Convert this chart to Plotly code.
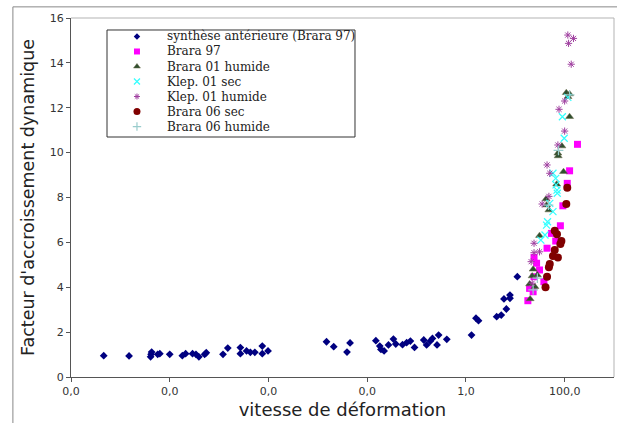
import plotly.graph_objects as go

# strain rate (1/s) and dynamic increase factor
synth_x = [4.6e-8, 1.5e-7, 4.1e-7, 4.2e-7, 4.3e-7, 5.7e-7, 6.3e-7, 1.0e-6, 1.8e-6, 2.1e-6,
           2.9e-6, 3.4e-6, 3.9e-6, 5.1e-6, 5.5e-6, 1.2e-5, 1.5e-5, 2.7e-5, 2.7e-5, 3.6e-5,
           4.3e-5, 5.3e-5, 7.5e-5, 7.5e-5, 9.8e-5, 1.5e-3, 2.1e-3, 3.9e-3, 4.5e-3, 0.015,
           0.018, 0.019, 0.022, 0.027, 0.034, 0.038, 0.052, 0.063, 0.075, 0.091,
           0.14, 0.16, 0.19, 0.21, 0.26, 0.28, 0.41, 1.3, 1.8, 1.6,
           4.2, 5.2, 6.6, 5.9, 7.8, 7.8, 11.0]
synth_y = [0.95, 0.94, 0.90, 1.01, 1.11, 1.01, 1.04, 1.01, 0.95, 1.04,
           1.04, 1.01, 0.90, 1.01, 1.08, 1.01, 1.29, 1.31, 1.04, 1.16,
           1.10, 1.10, 1.38, 1.04, 1.16, 1.57, 1.35, 1.11, 1.52, 1.62,
           1.38, 1.23, 1.16, 1.43, 1.69, 1.47, 1.44, 1.53, 1.60, 1.32,
           1.65, 1.43, 1.60, 1.72, 1.43, 1.87, 1.68, 1.87, 2.51, 2.62,
           2.69, 2.76, 3.03, 3.48, 3.65, 3.51, 4.47]

brara97_x = [182, 126, 113, 92, 82, 54, 66, 44, 24, 27, 31, 24, 38, 19.5, 23, 18]
brara97_y = [10.37, 9.19, 8.63, 7.63, 6.74, 6.40, 6.06, 5.74, 5.33, 5.07, 4.77, 4.47, 4.25, 3.95, 3.80, 3.40]

brara01h_x = [108, 126, 117, 126, 88, 73, 74, 95, 69, 42, 43, 48, 31, 23, 22, 28, 19.5, 25, 20]
brara01h_y = [12.67, 12.61, 12.49, 11.60, 10.29, 9.97, 9.85, 9.15, 8.59, 7.93, 7.66, 7.44, 6.30, 4.80, 4.50, 4.55, 4.14, 4.02, 3.48]

klep01s_x = [116, 90, 98, 58, 66, 70, 71, 67, 50, 58, 45, 43, 40, 33]
klep01s_y = [12.46, 11.60, 10.64, 9.08, 8.85, 8.33, 8.19, 8.56, 7.74, 7.37, 6.92, 6.77, 6.33, 6.10]

klep01h_x = [116, 151, 120, 136, 100, 77, 100, 73, 44, 50, 48, 35, 24, 24, 31, 21, 22]
klep01h_y = [15.24, 15.09, 14.87, 13.94, 12.30, 11.93, 10.96, 10.34, 9.45, 9.08, 8.05, 7.71, 5.96, 5.54, 5.58, 5.14, 4.18]

brara06s_x = [113, 108, 63, 70, 86, 82, 63, 58, 73, 50, 48, 44, 41]
brara06s_y = [8.44, 7.71, 6.52, 6.36, 6.06, 5.93, 5.66, 5.39, 5.33, 5.04, 4.89, 4.47, 4.00]

brara06h_x = [126, 75, 47, 28, 23]
brara06h_y = [12.57, 10.10, 7.66, 4.41, 3.88]

tick_vals = [1e-8, 1e-6, 1e-4, 1e-2, 1, 100]
tick_text = ["0,0", "0,0", "0,0", "0,0", "1,0", "100,0"]

series = [
    ("synthèse antérieure (Brara 97)", synth_x, synth_y,
     dict(symbol="diamond", size=6, color="#000080")),
    ("Brara 97", brara97_x, brara97_y,
     dict(symbol="square", size=7, color="#ff00ff")),
    ("Brara 01 humide", brara01h_x, brara01h_y,
     dict(symbol="triangle-up", size=7, color="#2f4f2f", line=dict(width=0.5, color="#6b6b4b"))),
    ("Klep. 01 sec", klep01s_x, klep01s_y,
     dict(symbol="x-thin-open", size=7, color="#33ffff", line=dict(width=1.2))),
    ("Klep. 01 humide", klep01h_x, klep01h_y,
     dict(symbol="asterisk-open", size=6, color="#a040a0", line=dict(width=1))),
    ("Brara 06 sec", brara06s_x, brara06s_y,
     dict(symbol="circle", size=8, color="#800000")),
    ("Brara 06 humide", brara06h_x, brara06h_y,
     dict(symbol="cross-thin-open", size=7, color="#99cccc", line=dict(width=1.2))),
]

fig = go.Figure()
for name, xs, ys, mk in series:
    fig.add_trace(go.Scatter(x=xs, y=ys, mode="markers", name=name, marker=mk,
                             showlegend=False))

# hand-made legend (plotly's own rows are too tall)
leg_x0, leg_x1, leg_y0, leg_y1 = 0.0663, 0.523, 0.6685, 0.9666
row_top, row_step = 0.9485, 0.0418
annotations = []
for i, (name, xs, ys, mk) in enumerate(series):
    yy = row_top - i * row_step
    small = dict(mk)
    small["size"] = max(mk["size"] - 1, 5)
    fig.add_trace(go.Scatter(x=[0.1215], y=[yy], xaxis="x2", yaxis="y2", mode="markers",
                             marker=small, showlegend=False, hoverinfo="skip"))
    annotations.append(dict(x=0.173, y=yy, xref="paper", yref="paper", text=name,
                            showarrow=False, xanchor="left", yanchor="middle",
                            font=dict(family="DejaVu Serif", size=12, color="#222")))

fig.update_layout(
    width=617, height=423,
    margin=dict(l=71, r=3, t=18, b=46),
    paper_bgcolor="white", plot_bgcolor="white",
    font=dict(family="DejaVu Sans", size=11, color="#333"),
    xaxis=dict(
        type="log", range=[-8, 3],
        tickvals=tick_vals, ticktext=tick_text,
        ticks="outside", ticklen=4, tickcolor="#555",
        showgrid=False, zeroline=False,
        showline=True, linecolor="#555", linewidth=1,
        title=dict(text="vitesse de déformation", font=dict(size=18, color="#222"), standoff=6),
    ),
    yaxis=dict(
        range=[0, 16], dtick=2,
        ticks="outside", ticklen=4, tickcolor="#555",
        showgrid=False, zeroline=False,
        showline=True, linecolor="#555", linewidth=1,
        title=dict(text="Facteur d'accroissement dynamique", font=dict(size=17.5, color="#222"), standoff=10),
    ),
    xaxis2=dict(overlaying="x", range=[0, 1], visible=False),
    yaxis2=dict(overlaying="y", range=[0, 1], visible=False),
    annotations=annotations,
    shapes=[
        # light frame on top / right of plot area
        dict(type="line", xref="paper", yref="paper", x0=0, x1=1, y0=1, y1=1,
             line=dict(color="#b3b3b3", width=1)),
        dict(type="line", xref="paper", yref="paper", x0=1, x1=1, y0=0, y1=1,
             line=dict(color="#b3b3b3", width=1)),
        # legend box
        dict(type="rect", xref="paper", yref="paper", x0=leg_x0, x1=leg_x1, y0=leg_y0, y1=leg_y1,
             line=dict(color="#333", width=1), fillcolor="white", layer="below"),
        # outer chart border
        dict(type="line", xref="paper", yref="paper", x0=-0.107, x1=1.1, y0=1.031, y1=1.031,
             line=dict(color="#888", width=1)),
        dict(type="line", xref="paper", yref="paper", x0=-0.107, x1=-0.107, y0=-0.2, y1=1.031,
             line=dict(color="#888", width=1)),
    ],
)

fig.write_html("out.html", config={"displayModeBar": False},
               post_script="document.body.style.margin='0';")
